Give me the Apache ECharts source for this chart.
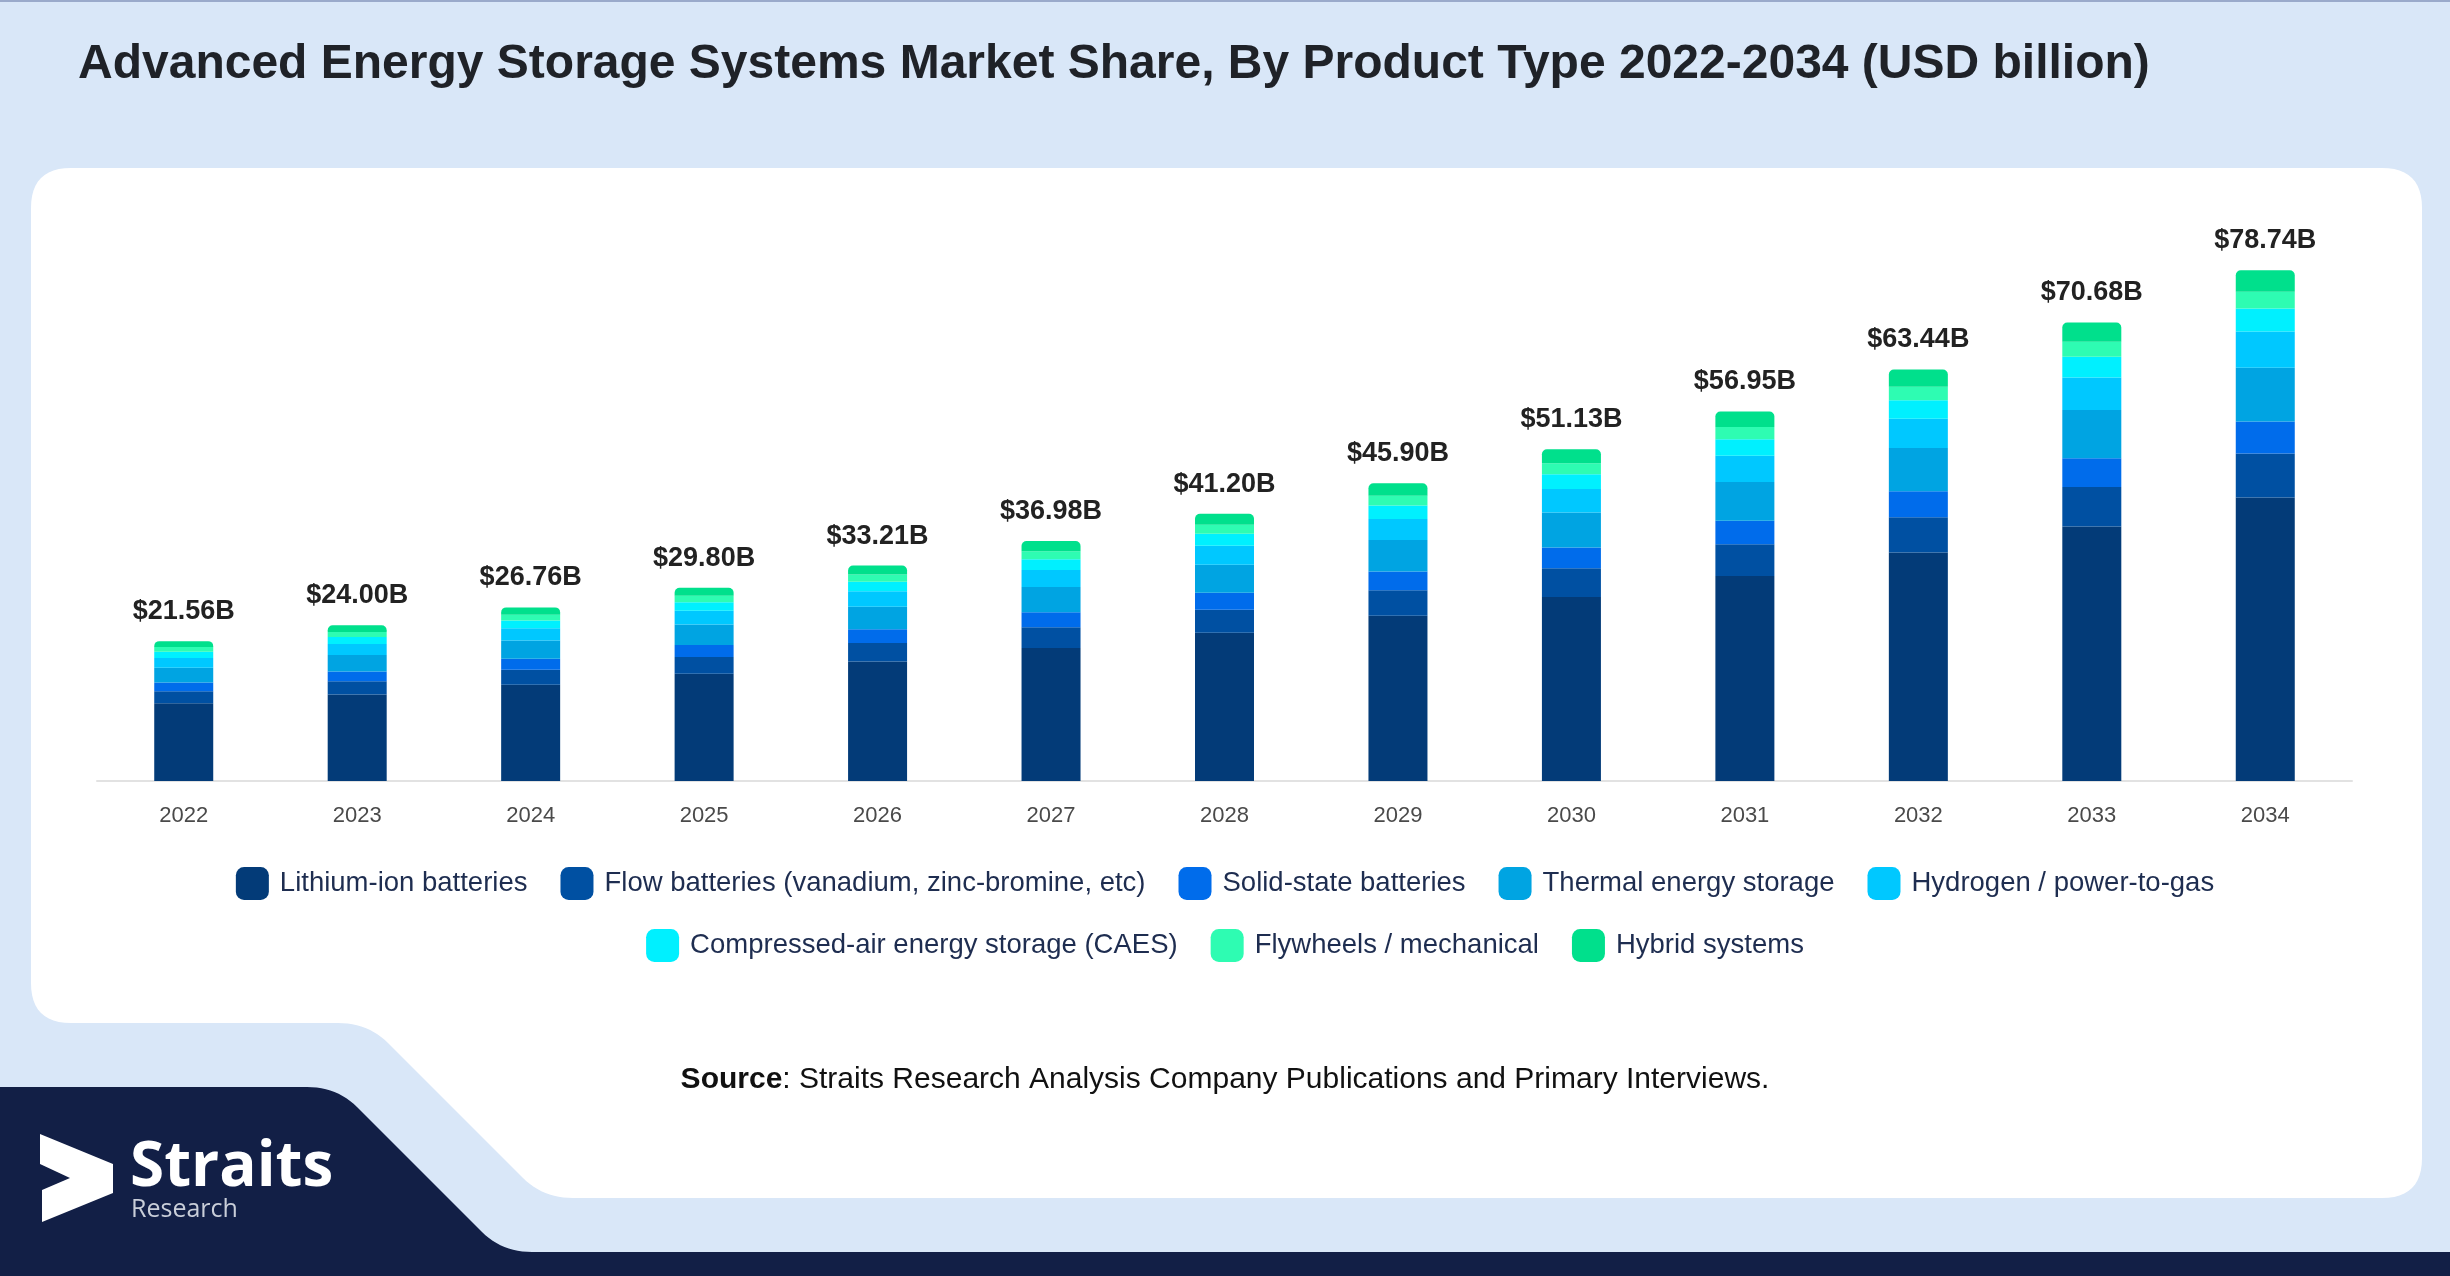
<!DOCTYPE html>
<html>
<head>
<meta charset="utf-8">
<script src="https://cdn.jsdelivr.net/npm/echarts@6/dist/echarts.min.js"></script>
<style>
html,body{margin:0;padding:0;background:#D9E7F8;}
#chart{width:2450px;height:1276px;}
</style>
</head>
<body>
<div id="chart"></div>
<script>
var years = ['2022','2023','2024','2025','2026','2027','2028','2029','2030','2031','2032','2033','2034'];
var totals = [21.56, 24.00, 26.76, 29.80, 33.21, 36.98, 41.20, 45.90, 51.13, 56.95, 63.44, 70.68, 78.74];
var lithiumIon   = [11.97, 13.32, 14.85, 16.54, 18.43, 20.52, 22.87, 25.47, 28.38, 31.61, 35.21, 39.23, 43.70];
var flowBatt     = [1.85, 2.06, 2.30, 2.56, 2.86, 3.18, 3.54, 3.95, 4.40, 4.90, 5.46, 6.08, 6.77];
var solidState   = [1.36, 1.51, 1.69, 1.88, 2.09, 2.33, 2.60, 2.89, 3.22, 3.59, 4.00, 4.45, 4.96];
var thermal      = [2.26, 2.52, 2.81, 3.13, 3.49, 3.88, 4.33, 4.82, 5.37, 5.98, 6.66, 7.42, 8.27];
var hydrogen     = [1.53, 1.70, 1.90, 2.12, 2.36, 2.63, 2.93, 3.26, 3.63, 4.04, 4.50, 5.02, 5.59];
var caes         = [0.97, 1.08, 1.20, 1.34, 1.49, 1.66, 1.85, 2.07, 2.30, 2.56, 2.85, 3.18, 3.54];
var flywheels    = [0.71, 0.79, 0.88, 0.98, 1.10, 1.22, 1.36, 1.51, 1.69, 1.88, 2.09, 2.33, 2.60];
var hybrid       = [0.91, 1.02, 1.13, 1.25, 1.39, 1.56, 1.72, 1.93, 2.14, 2.39, 2.67, 2.97, 3.31];

var seriesNames = ['Lithium-ion batteries','Flow batteries (vanadium, zinc-bromine, etc)','Solid-state batteries','Thermal energy storage','Hydrogen / power-to-gas','Compressed-air energy storage (CAES)','Flywheels / mechanical','Hybrid systems'];
var seriesData = [lithiumIon, flowBatt, solidState, thermal, hydrogen, caes, flywheels, hybrid];
var colors = ['#033B78','#0050A2','#006CEB','#00A4E2','#00C8FF','#00F0FF','#2EFCB2','#00E08C'];

// decorative outline helper: segments of straight lines and quadratic corners
function outline(segs){
  var pts = [];
  segs.forEach(function(s){
    if (s.length === 2) { pts.push(s); }
    else {
      var p0 = pts[pts.length-1], c = [s[0],s[1]], p1 = [s[2],s[3]];
      for (var k=1;k<=12;k++){
        var t=k/12, a=(1-t)*(1-t), b=2*(1-t)*t, d=t*t;
        pts.push([a*p0[0]+b*c[0]+d*p1[0], a*p0[1]+b*c[1]+d*p1[1]]);
      }
    }
  });
  return pts;
}
var cardPts = outline([[71,168],[2382,168],[2422,168,2422,208],[2422,1158],[2422,1198,2382,1198],[573,1198],[543,1198,523,1178],[388,1043],[368,1023,338,1023],[71,1023],[31,1023,31,983],[31,208],[31,168,71,168]]);
var navyPts = outline([[0,1087],[307,1087],[337,1087,357,1107],[482,1232],[502,1252,532,1252],[2450,1252],[2450,1276],[0,1276]]);

var chart = echarts.init(document.getElementById('chart'), null, {renderer:'canvas'});

var series = seriesNames.map(function(n, i){
  var s = {
    name: n, type: 'bar', stack: 'total', barWidth: 59,
    data: seriesData[i],
    itemStyle: {color: colors[i]},
    emphasis: {disabled: true}
  };
  if (i === seriesNames.length - 1) {
    s.itemStyle.borderRadius = [5,5,0,0];
    s.label = {
      show: true, position: 'top', distance: 16,
      fontFamily: 'Liberation Sans', fontWeight: 'bold', fontSize: 27, color: '#222222',
      formatter: function(p){ return '$' + totals[p.dataIndex].toFixed(2) + 'B'; }
    };
  }
  return s;
});

var legendText = {fontFamily:'Liberation Sans', fontSize: 27.5, color: '#1E2D50', padding:[0,0,0,6]};

chart.setOption({
  backgroundColor: '#D9E7F8',
  animation: false,
  graphic: [
    {type:'rect', shape:{x:0,y:0,width:2450,height:2}, style:{fill:'#9AAACB'}, z:0},
    {type:'polygon', shape:{points:cardPts}, style:{fill:'#FFFFFF'}, z:-10, silent:true},
    {type:'polygon', shape:{points:navyPts}, style:{fill:'#121F46'}, z:-9, silent:true},
    {type:'polygon', shape:{points:[[40,1134],[113,1164],[113,1193],[42,1222],[42,1190],[70,1178],[40,1164]]}, style:{fill:'#FFFFFF'}, z:5},
    {type:'text', x:130, y:1199, style:{text:'Straits', fontFamily:'Open Sans', fontWeight:'bold', fontSize:62, fill:'#FFFFFF', verticalAlign:'bottom'}, z:5},
    {type:'text', x:131, y:1222, style:{text:'Research', fontFamily:'Open Sans', fontSize:25, fill:'#C9CED9', verticalAlign:'bottom'}, z:5},
    {type:'text', x:78, y:65, style:{text:'Advanced Energy Storage Systems Market Share, By Product Type 2022-2034 (USD billion)', fontFamily:'Liberation Sans', fontWeight:'bold', fontSize:48, fill:'#1F2228', verticalAlign:'middle'}, z:5},
    {type:'text', x:1225, y:1080, style:{
      text:'{b|Source}: Straits Research Analysis Company Publications and Primary Interviews.',
      rich:{b:{fontFamily:'Liberation Sans', fontWeight:'bold', fontSize:30, fill:'#111111'}},
      fontFamily:'Liberation Sans', fontSize:30, fill:'#111111', align:'center', verticalAlign:'middle'}, z:5}
  ],
  legend: [
    {data: seriesNames.slice(0,5), left:'center', top:862, itemWidth:33, itemHeight:33, itemGap:33, icon:'roundRect', textStyle: legendText, selectedMode:false},
    {data: seriesNames.slice(5), left:'center', top:924, itemWidth:33, itemHeight:33, itemGap:33, icon:'roundRect', textStyle: legendText, selectedMode:false}
  ],
  grid: {left:97, right:98, top:262, bottom:495, containLabel:false},
  xAxis: {
    type:'category', data: years,
    axisLine:{lineStyle:{color:'#E2E2E2', width:2}},
    axisTick:{show:false},
    axisLabel:{fontFamily:'Liberation Sans', fontSize:22, color:'#4A4A4A', margin:24}
  },
  yAxis: {type:'value', min:0, max:80, show:false, splitLine:{show:false}},
  series: series
});
</script>
</body>
</html>
